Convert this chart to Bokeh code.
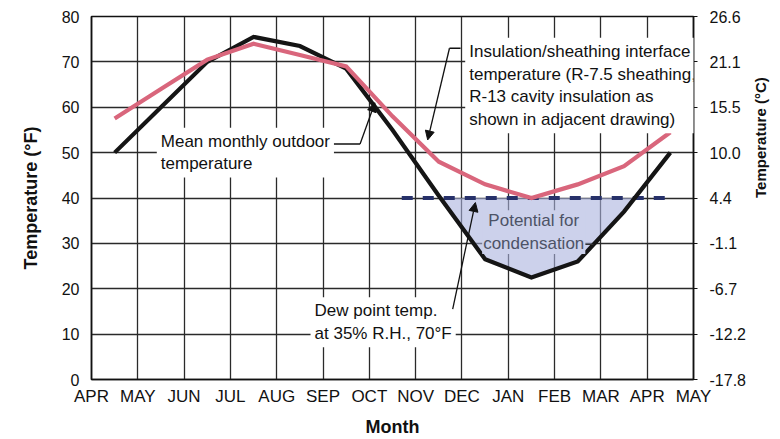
import numpy as np
from bokeh.plotting import figure
from bokeh.models import Range1d, LinearAxis, Label, Arrow, NormalHead, FixedTicker, ColumnDataSource
from bokeh.embed import file_html
from bokeh.resources import INLINE

# ---------------- data ----------------
month_labels = ["APR", "MAY", "JUN", "JUL", "AUG", "SEP", "OCT", "NOV",
                "DEC", "JAN", "FEB", "MAR", "APR", "MAY"]
# values plotted at mid-month (Apr ... Apr)
mid_month = [0.5, 1.5, 2.5, 3.5, 4.5, 5.5, 6.5, 7.5, 8.5, 9.5, 10.5, 11.5, 12.5]
outdoor_f = [50, 60, 70, 75.5, 73.5, 68.5, 55, 40.5, 26.5, 22.5, 26, 37, 50]
interface_f = [57.5, 64, 70.5, 74, 71.5, 69, 58, 48, 43, 40, 43, 47, 54.5]
dew_point_f = 40
dew_start, dew_end = 6.7, 12.5
f_ticks = [0, 10, 20, 30, 40, 50, 60, 70, 80]
c_labels = ["-17.8", "-12.2", "-6.7", "-1.1", "4.4", "10.0", "15.5", "21.1", "26.6"]

FONT = "Liberation Sans"

p = figure(width=780, height=439, x_range=Range1d(0, 13), y_range=Range1d(0, 80),
           output_backend="svg", toolbar_location=None,
           min_border_left=91, min_border_right=82, min_border_top=16, min_border_bottom=56)
p.background_fill_color = "white"
p.border_fill_color = "white"
p.outline_line_color = "#111111"
p.outline_line_width = 1.5

# axes
xa = p.xaxis[0]
xa.ticker = FixedTicker(ticks=list(range(len(month_labels))))
xa.major_label_overrides = {i: m for i, m in enumerate(month_labels)}
xa.axis_label = "Month"
ya = p.yaxis[0]
ya.ticker = FixedTicker(ticks=f_ticks)
ya.axis_label = "Temperature (°F)"

ra = LinearAxis(ticker=FixedTicker(ticks=f_ticks),
                major_label_overrides={t: c for t, c in zip(f_ticks, c_labels)},
                axis_label="Temperature (°C)")
if "axis_label_orientation" in LinearAxis.properties():
    ra.axis_label_orientation = np.pi / 2
p.add_layout(ra, "right")

for ax in [xa, ya, ra]:
    ax.axis_line_color = "#111111"
    ax.axis_line_width = 1.5
    ax.major_tick_in = 0
    ax.major_tick_out = 0
    ax.minor_tick_line_color = None
    ax.major_label_text_font = FONT
    ax.major_label_text_font_size = "16px"
    ax.major_label_text_color = "#111111"
    ax.axis_label_text_font = FONT
    ax.axis_label_text_font_size = "18px"
    ax.axis_label_text_font_style = "bold"
    ax.axis_label_text_color = "#111111"
xa.major_label_text_font_size = "17px"
ra.axis_label_text_font_size = "15px"
ra.major_tick_out = 4
ra.major_tick_line_color = "#111111"
ra.major_label_standoff = 12
ra.axis_label_standoff = 12
ya.major_label_standoff = 12
ya.axis_label_standoff = 18
xa.major_label_standoff = 7
xa.axis_label_standoff = 8

p.xgrid.ticker = FixedTicker(ticks=list(range(len(month_labels))))
p.ygrid.ticker = FixedTicker(ticks=f_ticks)
for g in [p.xgrid[0], p.ygrid[0]]:
    g.grid_line_color = "#2a2a2a"
    g.grid_line_width = 1.3
    g.grid_line_alpha = 1.0

# ---------------- condensation region ----------------
px, py = [], []
for i in range(len(mid_month) - 1):
    x0, y0, x1, y1 = mid_month[i], outdoor_f[i], mid_month[i + 1], outdoor_f[i + 1]
    if y0 < dew_point_f:
        px.append(x0); py.append(y0)
    if (y0 - dew_point_f) * (y1 - dew_point_f) < 0:
        xc = x0 + (dew_point_f - y0) / (y1 - y0) * (x1 - x0)
        px.append(xc); py.append(dew_point_f)
if outdoor_f[-1] < dew_point_f:
    px.append(mid_month[-1]); py.append(outdoor_f[-1])
p.patch(px, py, fill_color="#aab3de", fill_alpha=0.6, line_color=None)

# dew point line
p.line([dew_start, dew_end], [dew_point_f, dew_point_f], line_color="#27316a",
       line_width=3.8, line_dash="11 10")

src = ColumnDataSource(dict(x=mid_month, outdoor=outdoor_f, interface=interface_f))
p.line("x", "outdoor", source=src, line_color="#151515", line_width=4.2, line_join="miter")
p.line("x", "interface", source=src, line_color="#d9667c", line_width=4.2, line_join="miter")


def mk_label(pad=4, **kw):
    base = dict(text_font=FONT, text_font_size="17px", text_color="#111111",
                text_baseline="top", text_align="left")
    base.update(kw)
    try:
        return Label(padding=pad, **base)
    except Exception:
        return Label(**base)


head = lambda: NormalHead(size=9, fill_color="#111111", line_color="#111111", line_width=1)

# annotation: mean monthly outdoor temperature
p.add_layout(mk_label(x=1.41, y=55.5, text="Mean monthly outdoor\ntemperature",
                      background_fill_color="white"))
p.line([5.18, 5.80], [51.9, 51.9], line_color="#111111", line_width=1.3)
p.add_layout(Arrow(end=head(), x_start=5.80, y_start=51.9, x_end=6.12, y_end=61.0,
                   line_color="#111111", line_width=1.3))

# annotation: interface temperature
p.add_layout(mk_label(x=8.07, y=75.3,
                      text="Insulation/sheathing interface\ntemperature (R-7.5 sheathing,\n"
                           "R-13 cavity insulation as\nshown in adjacent drawing)",
                      background_fill_color="white"))
p.line([7.97, 7.73], [73.0, 73.0], line_color="#111111", line_width=1.3)
p.add_layout(Arrow(end=head(), x_start=7.73, y_start=73.0, x_end=7.26, y_end=52.8,
                   line_color="#111111", line_width=1.3))

# annotation: potential for condensation
p.add_layout(mk_label(pad=1, x=9.55, y=37.3, text="Potential for\ncondensation",
                      text_align="center", text_color="#4d5366",
                      background_fill_color="#ccd1eb"))
p.line([10.66, 10.84], [29.8, 29.8], line_color="#333333", line_width=1.2)

# annotation: dew point
p.add_layout(mk_label(x=4.73, y=18.1, text="Dew point temp.\nat 35% R.H., 70°F",
                      background_fill_color="white"))
p.line([7.47, 7.80], [15.5, 15.5], line_color="#111111", line_width=1.3)
p.add_layout(Arrow(end=head(), x_start=7.80, y_start=15.5, x_end=8.29, y_end=39.0,
                   line_color="#111111", line_width=1.3))

open("out.html", "w").write(file_html(p, INLINE))
